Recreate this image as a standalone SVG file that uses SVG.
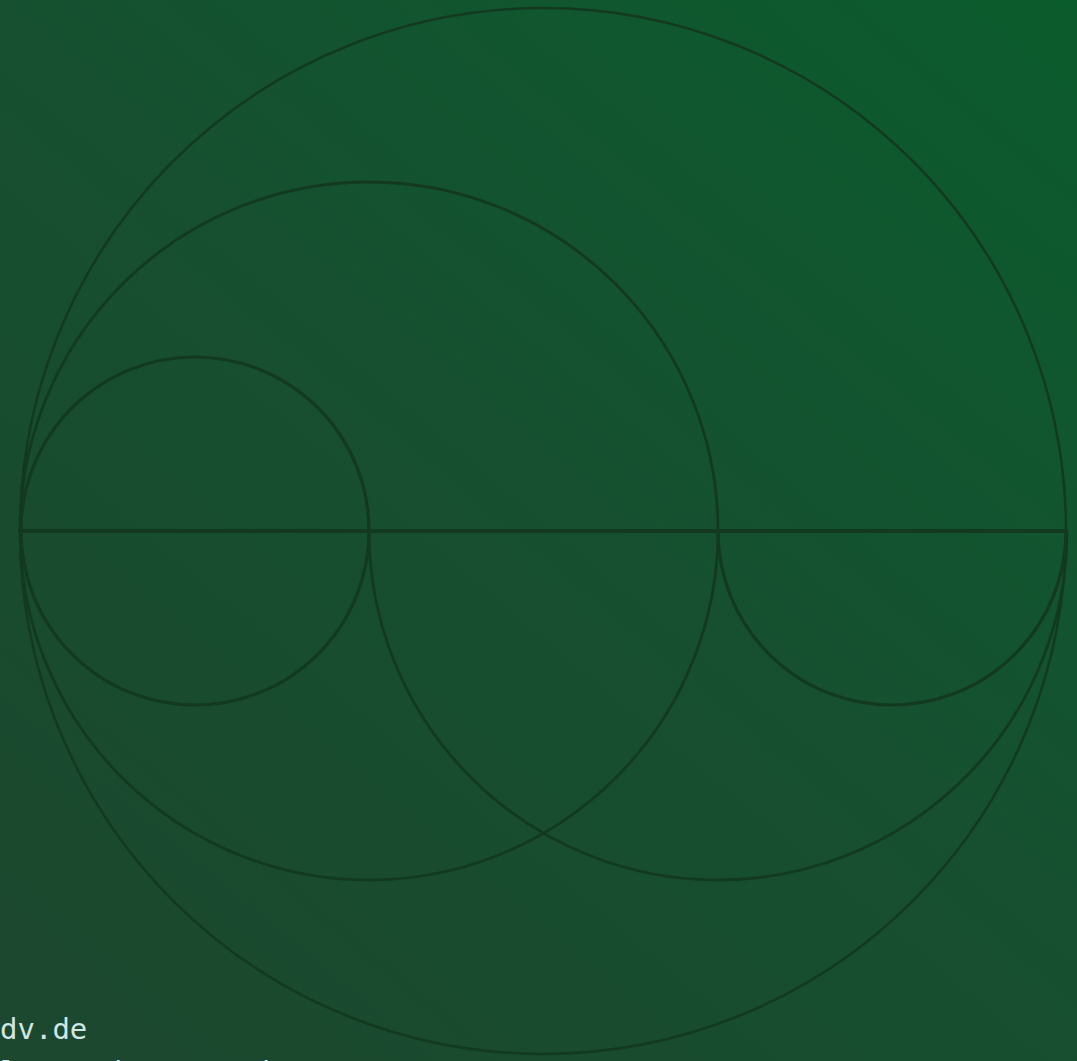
<svg xmlns="http://www.w3.org/2000/svg" width="1077" height="1061" viewBox="0 0 1077 1061">
<defs>
<linearGradient id="bg" x1="1" y1="0" x2="0.15" y2="1">
<stop offset="0" stop-color="#0b5c2d"/>
<stop offset="0.5" stop-color="#165030"/>
<stop offset="1" stop-color="#1b482e"/>
</linearGradient>
</defs>
<style>
.ln{fill:none;stroke:#133a20;stroke-linecap:round}
.t{font-family:"DejaVu Sans Mono","Liberation Mono",monospace;font-size:29px;fill:#d2e6e6}
</style>
<rect width="1077" height="1061" fill="url(#bg)"/>
<g id="connectors">
<circle id="outer" class="ln" cx="543" cy="531" r="523" stroke-width="2.5"/>
<circle id="midLeft" class="ln" cx="369" cy="531" r="349" stroke-width="2.8"/>
<path id="midRight" class="ln" d="M369 531 A349 349 0 0 0 1067 531" stroke-width="2.8"/>
<circle id="smallLeft" class="ln" cx="195" cy="531" r="174" stroke-width="3.2"/>
<path id="smallRight" class="ln" d="M718 531 A174 174 0 0 0 1066 531" stroke-width="3.2"/>
<line id="axis" class="ln" x1="20" y1="531" x2="1066" y2="531" stroke-width="4"/>
</g>
<g id="caption">
<text class="t" x="0" y="1039">dv.de</text>
<text class="t" x="0" y="1082" xml:space="preserve">l     d        b</text>
</g>
</svg>
